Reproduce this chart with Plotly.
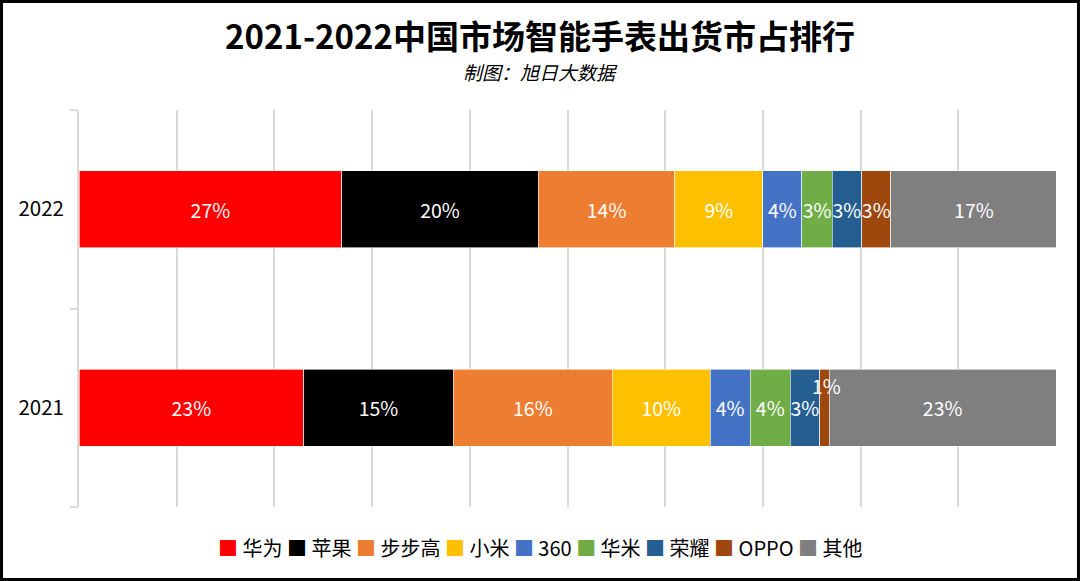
import plotly.graph_objects as go

years = ["2022", "2021"]
year_order = ["2021", "2022"]
brands = ["华为", "苹果", "步步高", "小米", "360", "华米", "荣耀", "OPPO", "其他"]
share_2022 = [26.9, 20.1, 14.0, 9.0, 4.0, 3.1, 3.0, 3.0, 17.0]
share_2021 = [23.0, 15.3, 16.3, 10.0, 4.1, 4.1, 3.0, 1.0, 23.2]
labels_2022 = ["27%", "20%", "14%", "9%", "4%", "3%", "3%", "3%", "17%"]
labels_2021 = ["23%", "15%", "16%", "10%", "4%", "4%", "3%", "1%", "23%"]
colors = ["#FF0000", "#000000", "#ED7D31", "#FFC000", "#4472C4",
          "#70AD47", "#255E91", "#9E480E", "#7F7F7F"]

FONT = "Noto Sans CJK SC"

fig = go.Figure()
for i, b in enumerate(brands):
    t22 = labels_2022[i]
    t21 = labels_2021[i] if share_2021[i] >= 2 else ""
    fig.add_trace(go.Bar(
        y=years, x=[share_2022[i], share_2021[i]], orientation="h", name=b,
        marker=dict(color=colors[i], line=dict(color="white", width=0.6)),
        text=[t22, t21], textposition="inside", insidetextanchor="middle",
        textangle=0, constraintext="none",
        textfont=dict(color="white", size=19.5, family=FONT),
        width=0.39, hoverinfo="x+name", showlegend=False,
    ))

# small-segment label placed above its segment
for i, b in enumerate(brands):
    if share_2021[i] < 2:
        xc = sum(share_2021[:i]) + share_2021[i] / 2
        fig.add_annotation(x=xc, y=year_order.index("2021"), xref="x", yref="y",
                           text=labels_2021[i], showarrow=False, xshift=2,
                           yshift=22, font=dict(color="white", size=19.5, family=FONT))

# compact legend row built from the brand / colour lists
legend_text = " ".join(
    f"<span style='color:{c}'>■</span> {b}" for b, c in zip(brands, colors))
fig.add_annotation(xref="paper", yref="paper", x=0.472, y=-0.101,
                   text=legend_text, showarrow=False, yanchor="middle",
                   font=dict(size=20, color="black", family=FONT))

fig.add_annotation(xref="paper", yref="paper", x=0.472, y=1.19,
                   text="<b>2021-2022中国市场智能手表出货市占排行</b>", showarrow=False,
                   font=dict(size=33, color="black", family=FONT), yanchor="middle")
fig.add_annotation(xref="paper", yref="paper", x=0.472, y=1.098,
                   text="<i>制图：旭日大数据</i>", showarrow=False,
                   font=dict(size=19, color="black", family=FONT), yanchor="middle")

fig.add_shape(type="rect", xref="paper", yref="paper",
              x0=-0.0793, x1=1.0230, y0=-0.1826, y1=1.2733,
              line=dict(color="black", width=3))

fig.update_layout(
    barmode="stack",
    width=1080, height=581,
    margin=dict(l=79, r=24, t=110, b=74),
    paper_bgcolor="white", plot_bgcolor="white",
    font=dict(family=FONT, color="black"),
    showlegend=False,
    xaxis=dict(range=[0, 100], dtick=10, showgrid=True, gridcolor="#D9D9D9",
               gridwidth=1.5, showticklabels=False, zeroline=False, fixedrange=True),
    yaxis=dict(type="category", categoryorder="array", categoryarray=year_order,
               range=[-0.5, 1.5], showgrid=False,
               showline=True, linecolor="#D9D9D9", linewidth=1.5,
               ticks="outside", tickson="boundaries", ticklen=7, tickcolor="#D9D9D9",
               tickwidth=1.5, tickfont=dict(size=20.5, family=FONT), ticksuffix="  "),
)

fig.write_html("out.html")
